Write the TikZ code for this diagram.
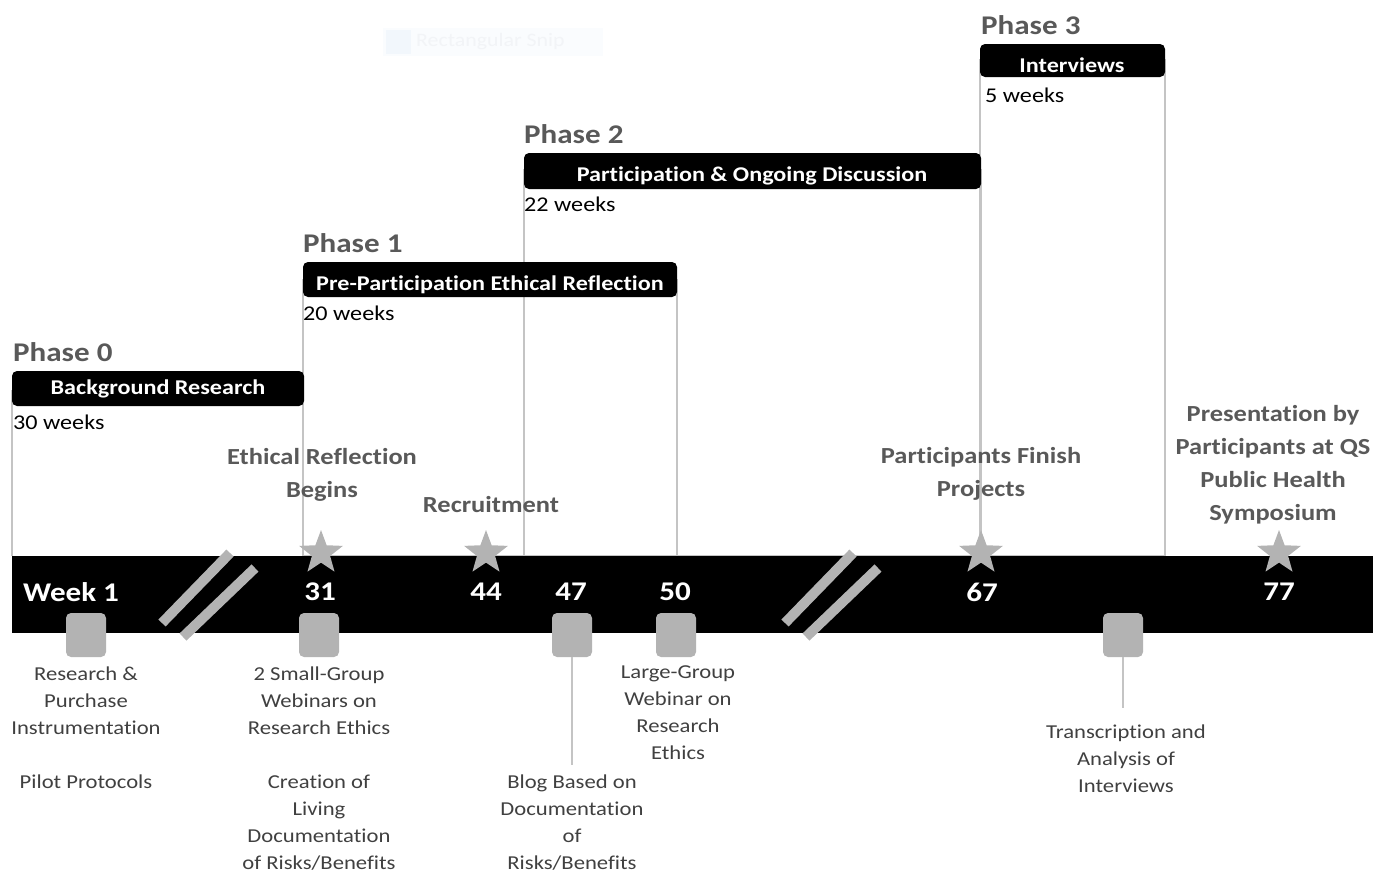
\documentclass[tikz,border=0pt]{standalone}
\usepackage{fontspec}
\setmainfont{Carlito}[FakeStretch=1.15,Ligatures=NoCommon]
\usetikzlibrary{shapes.geometric}
\definecolor{lblgray}{HTML}{595959}
\definecolor{txtgray}{HTML}{404040}
\definecolor{markgray}{HTML}{B3B3B3}
\definecolor{linegray}{HTML}{C4C4C4}
\tikzset{
  phaselbl/.style={anchor=west,inner sep=0pt,text=lblgray,font=\fontsize{27}{30}\selectfont\bfseries},
  header/.style={fill=black,rounded corners=5pt},
  headtxt/.style={inner sep=0pt,text=white,font=\fontsize{21}{24}\selectfont\bfseries},
  weeks/.style={anchor=west,inner sep=0pt,text=black,font=\fontsize{21}{24}\selectfont},
  frameline/.style={draw=linegray,line width=1.6pt},
  weeknum/.style={inner sep=0pt,text=white,font=\fontsize{27}{30}\selectfont\bfseries},
  milestone/.style={star,star points=5,star point ratio=2.4,minimum size=46pt,inner sep=0pt,fill=markgray},
  mlabel/.style={align=center,inner sep=0pt,anchor=north,text=lblgray,font=\fontsize{23}{33}\selectfont\bfseries},
  sq/.style={fill=markgray,rounded corners=5pt,minimum width=40pt,minimum height=44pt,inner sep=0pt},
  stem/.style={draw=linegray,line width=1.8pt},
  actlabel/.style={align=center,inner sep=0pt,anchor=north,text=txtgray,font=\fontsize{19.7}{27}\selectfont},
  brk/.style={draw=markgray,line width=10pt}
}
\begin{document}
\begin{tikzpicture}[x=1pt,y=-1pt]
\useasboundingbox (0,0) rectangle (1375,873);
% faint screen artifact
\fill[color={rgb,255:red,250;green,252;blue,254}] (383,28) rectangle (603,56);
\fill[color={rgb,255:red,242;green,247;blue,252}] (386,30) rectangle (411,54);
\node[anchor=west,inner sep=0pt,text={rgb,255:red,242;green,244;blue,247},font=\fontsize{19}{22}\selectfont] (snip) at (416,42) {Rectangular Snip};

% phase frames
\draw[frameline] (12,390) -- (12,556);
\draw[frameline] (303,280) rectangle (677,556);
\draw[frameline] (524,170) rectangle (981,556);
\draw[frameline] (980,60) rectangle (1165,556);

% timeline bar
\fill[black] (12,556) rectangle (1373,633);

% headers
\fill[header] (12,371) rectangle (304,406);
\node[headtxt] (h0) at (158,389) {Background Research};
\node[phaselbl] (p0) at (13,352) {Phase 0};
\node[weeks] (w0) at (13,422) {30 weeks};

\fill[header] (303,262) rectangle (677,297);
\node[headtxt] (h1) at (490,285) {Pre-Participation Ethical Reflection};
\node[phaselbl] (p1) at (303,243) {Phase 1};
\node[weeks] (w1) at (303,313) {20 weeks};

\fill[header] (524,153) rectangle (981,189);
\node[headtxt] (h2) at (752,176) {Participation \& Ongoing Discussion};
\node[phaselbl] (p2) at (524,134) {Phase 2};
\node[weeks] (w2) at (524,204) {22 weeks};

\fill[header] (980,44) rectangle (1165,77);
\node[headtxt] (h3) at (1072,65) {Interviews};
\node[phaselbl] (p3) at (981,25) {Phase 3};
\node[weeks] (w3) at (985,95) {5 weeks};

% break marks
\draw[brk] (162,623) -- (230,553);
\draw[brk] (183,637) -- (255,568);
\draw[brk] (785,623) -- (853,553);
\draw[brk] (806,637) -- (878,568);

% milestones
\node[milestone] (s31) at (321,553) {};
\node[milestone] (s44) at (486,553) {};
\node[milestone] (s67) at (981,553) {};
\node[milestone] (s77) at (1279,553) {};

\node[mlabel] (l31) at (322,448) {Ethical Reflection\\Begins};
\node[mlabel] (l44) at (491,496) {Recruitment};
\node[mlabel] (l67) at (981,447) {Participants Finish\\Projects};
\node[mlabel] (l77) at (1273,405) {Presentation by\\Participants at QS\\Public Health\\Symposium};

% week numbers
\node[weeknum] (n1) at (71,592) {Week 1};
\node[weeknum] (n31) at (320,592) {31};
\node[weeknum] (n44) at (486,592) {44};
\node[weeknum] (n47) at (571,592) {47};
\node[weeknum] (n50) at (675,592) {50};
\node[weeknum] (n67) at (982,592) {67};
\node[weeknum] (n77) at (1279,592) {77};

% activity squares
\node[sq] (q1) at (86,635) {};
\node[sq] (q31) at (319,635) {};
\node[sq] (q47) at (572,635) {};
\node[sq] (q50) at (676,635) {};
\node[sq] (q70) at (1123,635) {};

\coordinate (e47) at (572,765);
\coordinate (e70) at (1123,708);
\draw[stem] (q47.south) -- (e47);
\draw[stem] (q70.south) -- (e70);

% activity labels
\node[actlabel] (a1) at (86,667) {Research \&\\Purchase\\Instrumentation\\[27pt]Pilot Protocols};
\node[actlabel] (a31) at (319,667) {2 Small-Group\\Webinars on\\Research Ethics\\[27pt]Creation of\\Living\\Documentation\\of Risks/Benefits};
\node[actlabel] (a50) at (678,666) {Large-Group\\Webinar on\\Research\\Ethics};
\node[actlabel] (a47) at (572,775) {Blog Based on\\Documentation\\of\\Risks/Benefits};
\node[actlabel] (a70) at (1126,725) {Transcription and\\Analysis of\\Interviews};
\end{tikzpicture}
\end{document}
